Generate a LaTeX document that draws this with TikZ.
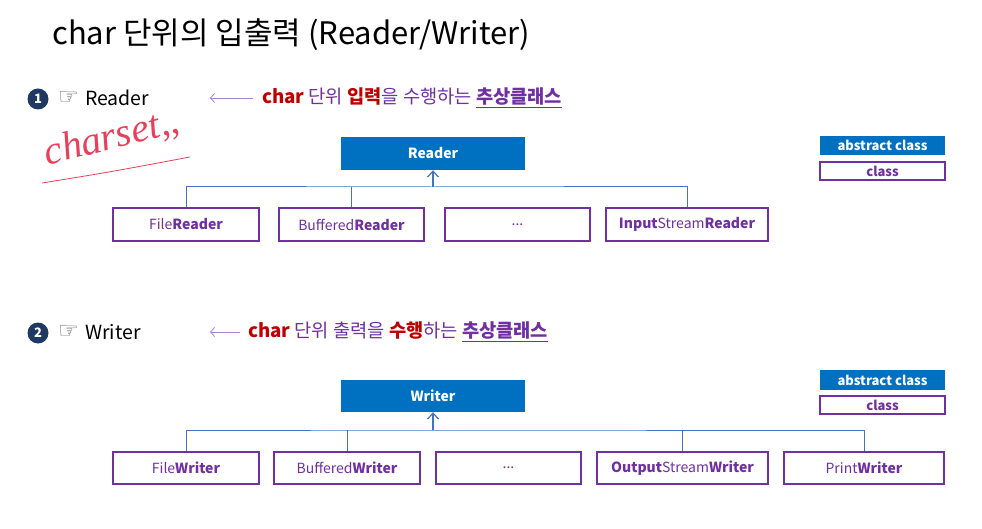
\documentclass[tikz,border=0pt]{standalone}
\usepackage{fontspec}
\setmainfont{Noto Sans CJK KR}
\newfontfamily\symfont{DejaVu Sans}
\newfontfamily\handfont{Liberation Serif}
\usetikzlibrary{arrows.meta,positioning}

\definecolor{absblue}{HTML}{0070C0}
\definecolor{clspurple}{HTML}{7030A0}
\definecolor{keyred}{HTML}{C00000}
\definecolor{linkblue}{HTML}{4472C4}
\definecolor{navy}{HTML}{203864}
\definecolor{notepurple}{HTML}{A983CF}
\definecolor{inkred}{HTML}{E8405A}

\begin{document}
\begin{tikzpicture}[x=1pt,y=-1pt]
    % char streams: Reader / Writer hierarchy
    % - blue box = abstract class
    % - white box = concrete class
    \tikzset{abstract/.style = {shape=rectangle,fill=absblue,text=white,font=\bfseries\fontsize{14}{16}\selectfont,minimum width=184pt,minimum height=33pt,inner sep=0pt}}
    \tikzset{concrete/.style = {shape=rectangle,draw=clspurple,line width=1.2pt,text=clspurple,font=\fontsize{14}{16}\selectfont,minimum height=33pt,inner sep=0pt}}
    \tikzset{legabs/.style = {abstract,font=\bfseries\fontsize{13}{15}\selectfont,minimum width=125pt,minimum height=19pt}}
    \tikzset{legcls/.style = {concrete,font=\bfseries\fontsize{13}{15}\selectfont,minimum width=125pt,minimum height=18pt}}
    \tikzset{num/.style = {shape=circle,fill=navy,text=white,font=\bfseries\fontsize{13}{13}\selectfont,minimum size=21pt,inner sep=0pt}}
    \tikzset{pointer/.style = {anchor=west,text=black!60,font=\symfont\fontsize{23}{24}\selectfont,inner sep=0pt}}
    \tikzset{heading/.style = {anchor=west,font=\fontsize{19.5}{22}\selectfont,inner sep=0pt}}
    \tikzset{desc/.style = {anchor=west,text=clspurple,font=\fontsize{18.7}{21}\selectfont,inner sep=0pt}}
    \tikzset{note/.style = {draw=notepurple,line width=0.8pt,-{Straight Barb[length=4pt,width=9pt]}}}
    \tikzset{link/.style = {draw=linkblue,line width=1pt}}
    \tikzset{inherit/.style = {link,line width=1.2pt,-{Straight Barb[length=6pt,width=11pt]}}}

    \useasboundingbox[fill=white] (0,0) rectangle (982,529);

    % title
    \node[anchor=west,font=\fontsize{31}{34}\selectfont,inner sep=0pt] (title) at (52,35) {char 단위의 입출력 (Reader/Writer)};

    % handwritten note
    \node[text=inkred,font=\handfont\itshape\fontsize{40}{40}\selectfont,rotate=14] (scrawl) at (112,138) {charset,,};
    \coordinate (inkA) at (42,183);
    \coordinate (inkB) at (190,157);
    \draw[inkred,line width=0.8pt] (inkA) .. controls (110,172) .. (inkB);

    % reader
    \node[num] (n1) at (38,99) {1};
    \node[pointer] (hand1) at (58,98) {☞};
    \node[heading] (hdr1) at (85,98) {Reader};
    \node[desc] (desc1) at (262,98) {\textcolor{keyred}{\bfseries char} 단위 \textcolor{keyred}{\bfseries 입력}을 수행하는 \underline{\bfseries 추상클래스}};
    \coordinate (ptr1) at (210,98);
    \draw[note] ([xshift=-9pt]desc1.west) -- (ptr1);

    \node[abstract] (reader) at (433,153.5) {Reader};
    \node[concrete,minimum width=146pt] (fileR) at (186,224.5) {File\textbf{Reader}};
    \node[concrete,minimum width=145pt] (bufR) at (351.5,224.5) {Buffered\textbf{Reader}};
    \node[concrete,minimum width=145pt] (etcR) at (517.5,224.5) {...};
    \node[concrete,minimum width=162pt] (isR) at (687,224.5) {\textbf{Input}Stream\textbf{Reader}};
    \coordinate (busR) at (433,187);
    \draw[link] (fileR.north) |- (busR) -| (isR.north);
    \draw[link] (bufR.north) -- (bufR.north |- busR);
    \draw[inherit] (busR) -- (reader.south);

    \node[legabs] (absR) at (882.5,145.5) {abstract class};
    \node[legcls] (clsR) at (882.5,171) {class};

    % writer
    \node[num] (n2) at (38,333) {2};
    \node[pointer] (hand2) at (58,332) {☞};
    \node[heading] (hdr2) at (85,332) {Writer};
    \node[desc] (desc2) at (248,332) {\textcolor{keyred}{\bfseries char} 단위 출력을 \textcolor{keyred}{\bfseries 수행}하는 \underline{\bfseries 추상클래스}};
    \coordinate (ptr2) at (210,332);
    \draw[note] ([xshift=-8pt]desc2.west) -- (ptr2);

    \node[abstract,minimum height=32pt] (writer) at (433,396) {Writer};
    \node[concrete,minimum width=146pt,minimum height=32pt] (fileW) at (186,468) {File\textbf{Writer}};
    \node[concrete,minimum width=146pt,minimum height=32pt] (bufW) at (347,468) {Buffered\textbf{Writer}};
    \node[concrete,minimum width=145pt,minimum height=32pt] (etcW) at (508.5,468) {...};
    \node[concrete,minimum width=171pt,minimum height=32pt] (osW) at (682.5,468) {\textbf{Output}Stream\textbf{Writer}};
    \node[concrete,minimum width=160pt,minimum height=32pt] (prW) at (864,468) {Print\textbf{Writer}};
    \coordinate (busW) at (433,430);
    \draw[link] (fileW.north) |- (busW) -| (prW.north);
    \draw[link] (bufW.north) -- (bufW.north |- busW);
    \draw[link] (osW.north) -- (osW.north |- busW);
    \draw[inherit] (busW) -- (writer.south);

    \node[legabs,minimum height=20pt] (absW) at (882.5,380) {abstract class};
    \node[legcls] (clsW) at (882.5,405) {class};
\end{tikzpicture}
\end{document}
